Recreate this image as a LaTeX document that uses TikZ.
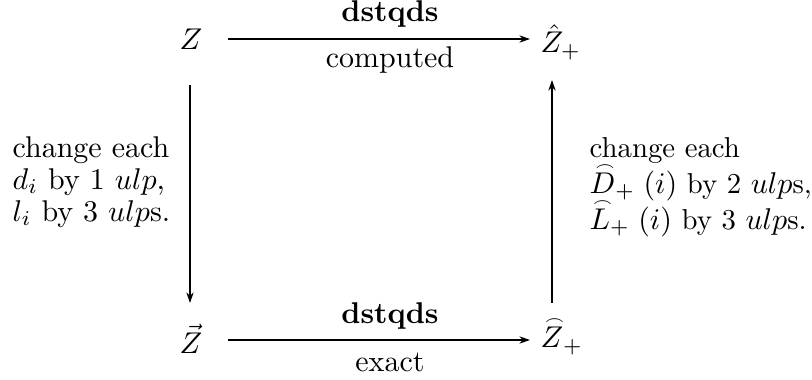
\documentclass[tikz,border=0pt]{standalone}
\usepackage{amsmath}
\usetikzlibrary{arrows.meta}
\newcommand\mytightlines{\lineskiplimit -20pt\relax}
\newcommand\arcacc[1]{\mathord{\ooalign{$#1$\cr\hidewidth\kern1.8pt\raisebox{7.6pt}{$\scriptscriptstyle\frown$}\hidewidth\cr}}}
\begin{document}
\begin{tikzpicture}[x=0.3333pt,y=-0.3333pt,
  lbl/.style={inner sep=0pt},
  obj/.style={inner sep=0pt},
  arr/.style={line width=0.65pt,-{Stealth[length=3.5pt,width=2.4pt]}}]
\useasboundingbox (0,0) rectangle (812,380);
\node[obj] (Z) at (191,39) {$Z$};
\node[obj,anchor=west] (Zh) at (540,42) {$\hat{Z}_+$};
\node[obj] (Zv) at (191,339) {$\vec{Z}$};
\node[obj,anchor=west] (Zc) at (540,341) {$\arcacc{Z}_+$};
\coordinate (a1) at (228,39);
\coordinate (a2) at (530,39);
\coordinate (b1) at (228,340);
\coordinate (b2) at (530,340);
\coordinate (l1) at (190,85);
\coordinate (l2) at (190,303);
\coordinate (r1) at (552,303);
\coordinate (r2) at (552,80);
\draw[arr] (a1) -- (a2);
\draw[arr] (b1) -- (b2);
\draw[arr] (l1) -- (l2);
\draw[arr] (r1) -- (r2);
\node[obj] (t1) at (390,14) {\textbf{dstqds}};
\node[lbl] (t2) at (390,60) {computed};
\node[obj] (t3) at (390,316) {\textbf{dstqds}};
\node[lbl] (t4) at (390,362) {exact};
\node[lbl,anchor=west,align=left,font=\fontsize{10}{10.6}\selectfont\mytightlines] (L) at (12,182) {change each\\ $d_i$ by 1 $ulp$,\\ $l_i$ by 3 $ulp$s.};
\node[lbl,anchor=west,align=left,font=\fontsize{9.6}{12}\selectfont\mytightlines] (R) at (589,187) {change each\\ $\arcacc{D}_+\;(i)$ by 2 $ulp$s,\\ $\arcacc{L}_+\;(i)$ by 3 $ulp$s.};
\end{tikzpicture}
\end{document}
